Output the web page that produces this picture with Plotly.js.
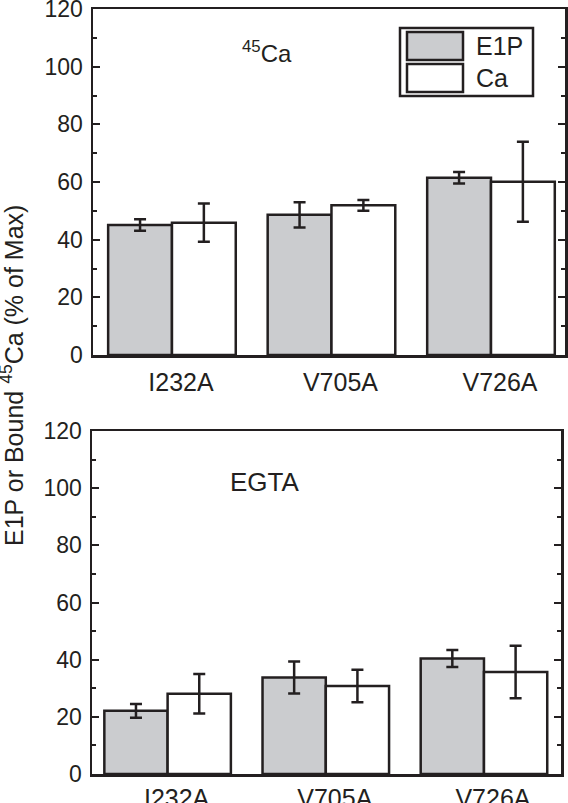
<!DOCTYPE html>
<html>
<head>
<meta charset="utf-8">
<script src="https://cdn.plot.ly/plotly-3.0.1.min.js"></script>
<style>
html,body{margin:0;padding:0;background:#fff;}
#chart{width:568px;height:803px;}
</style>
</head>
<body>
<div id="chart"></div>
<script>
// ---- data ----
const categories = ['I232A', 'V705A', 'V726A'];
const seriesNames = ['E1P', 'Ca'];
const ca45_E1P = [45.1, 48.6, 61.5];
const ca45_E1P_err = [2.0, 4.4, 2.0];
const ca45_Ca = [45.9, 51.9, 60.1];
const ca45_Ca_err = [6.6, 1.9, 13.9];
const egta_E1P = [22.1, 33.8, 40.4];
const egta_E1P_err = [2.4, 5.6, 3.0];
const egta_Ca = [28.1, 30.8, 35.7];
const egta_Ca_err = [6.9, 5.7, 9.2];
const yTickVals = [0, 20, 40, 60, 80, 100, 120];
const panelLabels = ['<sup>45</sup>Ca', 'EGTA'];
const yTitle = 'E1P or Bound <sup>45</sup>Ca (% of Max)';

// ---- style ----
const W = 568, H = 803;
const ink = '#231f20';
const gray = '#cbcccf';
const fam = 'Liberation Sans, Arial, Helvetica, sans-serif';
const px = v => v / W;
const py = v => 1 - v / H;

function bar(name, x, y, err, fill, xa, ya) {
  return {
    type: 'bar', name: name, x: x, y: y,
    xaxis: xa, yaxis: ya,
    marker: {color: fill, line: {color: ink, width: 2.5}},
    error_y: {type: 'data', array: err, visible: true, color: ink, thickness: 2.5, width: 6},
    showlegend: false, hoverinfo: 'skip'
  };
}

const data = [
  bar(seriesNames[0], categories, ca45_E1P, ca45_E1P_err, gray, 'x', 'y'),
  bar(seriesNames[1], categories, ca45_Ca, ca45_Ca_err, '#ffffff', 'x', 'y'),
  bar(seriesNames[0], categories, egta_E1P, egta_E1P_err, gray, 'x2', 'y2'),
  bar(seriesNames[1], categories, egta_Ca, egta_Ca_err, '#ffffff', 'x2', 'y2')
];

function xAxis(domain, range, anchor, standoff) {
  return {
    domain: domain, range: range, anchor: anchor, type: 'category',
    showline: true, linecolor: ink, linewidth: 2.5, mirror: true,
    ticks: '', showgrid: false, zeroline: false,
    tickfont: {family: fam, size: 25, color: ink},
    ticklabelshift: 9, ticklabelstandoff: standoff, ticklabeloverflow: 'allow',
    fixedrange: true
  };
}
function yAxis(domain, anchor) {
  return {
    domain: domain, range: [0, 120], anchor: anchor,
    tickmode: 'array', tickvals: yTickVals,
    showline: true, linecolor: ink, linewidth: 2.5, mirror: 'ticks',
    ticks: 'inside', ticklen: 7, tickwidth: 2, tickcolor: ink,
    minor: {dtick: 10, ticks: 'inside', ticklen: 4, tickwidth: 2, tickcolor: ink, showgrid: false},
    showgrid: false, zeroline: false,
    tickfont: {family: fam, size: 23, color: ink},
    ticklabelstandoff: 3, ticklabeloverflow: 'allow', fixedrange: true
  };
}

const shapes = [
  {type: 'rect', xref: 'paper', yref: 'paper', x0: px(400), x1: px(533), y0: py(96), y1: py(28),
   line: {color: ink, width: 2.5}, fillcolor: '#ffffff'},
  {type: 'rect', xref: 'paper', yref: 'paper', x0: px(407), x1: px(463), y0: py(60), y1: py(32),
   line: {color: ink, width: 2.5}, fillcolor: gray},
  {type: 'rect', xref: 'paper', yref: 'paper', x0: px(407), x1: px(463), y0: py(92), y1: py(64),
   line: {color: ink, width: 2.5}, fillcolor: '#ffffff'}
];

const annotations = [
  {text: panelLabels[0], xref: 'paper', yref: 'paper', x: px(267), y: py(52), showarrow: false,
   xanchor: 'center', yanchor: 'middle', font: {family: fam, size: 24, color: ink}},
  {text: panelLabels[1], xref: 'paper', yref: 'paper', x: px(265), y: py(482), showarrow: false,
   xanchor: 'center', yanchor: 'middle', font: {family: fam, size: 26, color: ink}},
  {text: yTitle, xref: 'paper', yref: 'paper', x: px(12), y: py(376), showarrow: false,
   textangle: -90, xanchor: 'center', yanchor: 'middle', font: {family: fam, size: 25, color: ink}},
  {text: seriesNames[0], xref: 'paper', yref: 'paper', x: px(474), y: py(46), showarrow: false,
   xanchor: 'left', yanchor: 'middle', font: {family: fam, size: 25, color: ink}},
  {text: seriesNames[1], xref: 'paper', yref: 'paper', x: px(474), y: py(78), showarrow: false,
   xanchor: 'left', yanchor: 'middle', font: {family: fam, size: 25, color: ink}}
];

const layout = {
  width: W, height: H,
  margin: {l: 0, r: 0, t: 0, b: 0, pad: 0},
  paper_bgcolor: '#ffffff', plot_bgcolor: '#ffffff',
  barmode: 'group', bargap: 0.2, bargroupgap: 0,
  showlegend: false,
  font: {family: fam, color: ink},
  xaxis: xAxis([px(93), px(565)], [-0.495, 2.464], 'y', 3),
  yaxis: yAxis([py(355), py(9)], 'x'),
  xaxis2: xAxis([px(92), px(561)], [-0.478, 2.487], 'y2', 0),
  yaxis2: yAxis([py(774), py(431)], 'x2'),
  shapes: shapes,
  annotations: annotations
};

Plotly.newPlot('chart', data, layout, {staticPlot: true, displayModeBar: false});
</script>
</body>
</html>
